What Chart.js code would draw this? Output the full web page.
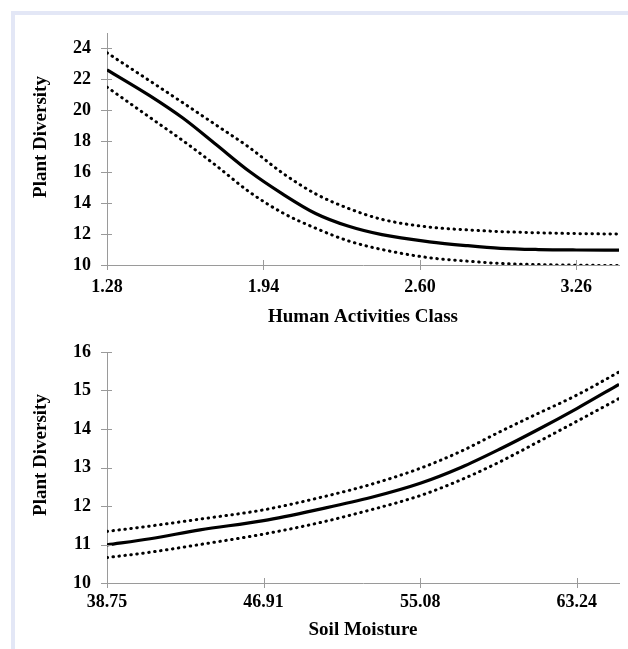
<!DOCTYPE html>
<html>
<head>
<meta charset="utf-8">
<script src="https://cdn.jsdelivr.net/npm/chart.js@4.4.1/dist/chart.umd.min.js"></script>
<style>
  html, body { margin: 0; background: #fff; overflow: hidden; }
  #frame {
    position: absolute; left: 11px; top: 11px; width: 613px; height: 634px;
    border-top: 4px solid #e3e7f6; border-left: 4px solid #e3e7f6;
  }
  .box { position: absolute; left: 15px; }
</style>
</head>
<body>
<div id="frame"></div>
<div class="box" style="top:15px"><canvas id="humanChart" width="613" height="315"></canvas></div>
<div class="box" style="top:330px"><canvas id="soilChart" width="613" height="319"></canvas></div>
<script>
// Plant diversity vs human activities class (fitted curve with confidence band)
const humanX = [1.28, 1.46, 1.60, 1.74, 1.88, 2.02, 2.16, 2.30, 2.44, 2.64, 2.80, 2.94, 3.10, 3.26, 3.44];
const humanMean = [22.62, 20.95, 19.5, 17.79, 16.06, 14.6, 13.33, 12.5, 11.96, 11.5, 11.25, 11.08, 11.0, 10.97, 10.96];
const humanUpper = [23.72, 21.91, 20.49, 19.05, 17.6, 15.95, 14.6, 13.65, 12.95, 12.45, 12.27, 12.16, 12.08, 12.03, 12.0];
const humanLower = [21.5, 19.55, 18.04, 16.43, 14.73, 13.38, 12.38, 11.55, 11.0, 10.47, 10.25, 10.1, 10.03, 9.99, 9.96];
const humanTicksX = [1.28, 1.94, 2.60, 3.26];
const humanTicksY = [10, 12, 14, 16, 18, 20, 22, 24];

// Plant diversity vs soil moisture
const soilX = [38.75, 41.0, 43.6, 46.91, 49.86, 52.5, 55.08, 57.2, 59.24, 61.2, 63.24, 65.44];
const soilMean = [10.99, 11.15, 11.38, 11.62, 11.92, 12.22, 12.59, 13.0, 13.48, 13.98, 14.53, 15.16];
const soilUpper = [11.34, 11.48, 11.66, 11.9, 12.22, 12.56, 12.98, 13.42, 13.93, 14.4, 14.88, 15.48];
const soilLower = [10.66, 10.8, 11.0, 11.27, 11.57, 11.9, 12.27, 12.68, 13.15, 13.66, 14.2, 14.79];
const soilTicksX = [38.75, 46.91, 55.08, 63.24];
const soilTicksY = [10, 11, 12, 13, 14, 15, 16];

const axisColor = '#9a9a9a';
const serif = '"Liberation Serif", "Times New Roman", serif';

// ticks that cross the axis line
const crossTicks = {
  id: 'crossTicks',
  afterDraw(chart) {
    const { ctx, scales: { x, y } } = chart;
    ctx.save();
    ctx.strokeStyle = axisColor;
    ctx.lineWidth = 1;
    ctx.beginPath();
    x.ticks.forEach(t => {
      const px = Math.round(x.getPixelForValue(t.value)) + 0.5;
      ctx.moveTo(px, x.top - 5);
      ctx.lineTo(px, x.top + 5);
    });
    y.ticks.forEach(t => {
      const py = Math.round(y.getPixelForValue(t.value)) + 0.5;
      ctx.moveTo(y.right - 6, py);
      ctx.lineTo(y.right + 5, py);
    });
    ctx.stroke();
    ctx.restore();
  }
};

// rotated y axis title, placed like the original figure
const sideTitle = {
  id: 'sideTitle',
  afterDraw(chart, args, opts) {
    const { ctx } = chart;
    ctx.save();
    ctx.translate(opts.x, opts.y);
    ctx.rotate(-Math.PI / 2);
    ctx.font = 'bold 19px ' + serif;
    ctx.fillStyle = '#000';
    ctx.textAlign = 'center';
    ctx.textBaseline = 'middle';
    ctx.fillText(opts.text, 0, 0);
    ctx.restore();
  }
};

function toPoints(xs, ys) {
  return xs.map((x, i) => ({ x: x, y: ys[i] }));
}

function makeChart(id, cfg) {
  const dotted = { borderColor: '#000', borderWidth: 3, borderDash: [0.5, 5.5], borderCapStyle: 'round',
                   pointRadius: 0, cubicInterpolationMode: 'monotone' };
  return new Chart(document.getElementById(id), {
    type: 'line',
    data: {
      datasets: [
        Object.assign({ label: 'upper', data: toPoints(cfg.xs, cfg.upper) }, dotted),
        Object.assign({ label: 'lower', data: toPoints(cfg.xs, cfg.lower) }, dotted),
        { label: 'mean', data: toPoints(cfg.xs, cfg.mean), borderColor: '#000', borderWidth: 3.2,
          pointRadius: 0, cubicInterpolationMode: 'monotone' }
      ]
    },
    options: {
      responsive: false,
      animation: false,
      events: [],
      layout: { padding: { left: 0, right: 9, top: cfg.padTop, bottom: 0 } },
      plugins: {
        legend: { display: false },
        tooltip: { enabled: false },
        sideTitle: { text: 'Plant Diversity', x: 26, y: cfg.titleY }
      },
      scales: {
        x: {
          type: 'linear',
          min: cfg.xMin,
          max: cfg.xMax,
          afterBuildTicks: s => { s.ticks = cfg.ticksX.map(v => ({ value: v })); },
          afterFit: s => { s.height = cfg.xHeight; },
          grid: { display: true, drawOnChartArea: false, drawTicks: false },
          border: { display: true, color: axisColor, width: 1 },
          ticks: {
            padding: cfg.xPad,
            color: '#000',
            font: { family: serif, size: 18, weight: 'bold' },
            callback: v => v.toFixed(2)
          },
          title: {
            display: true,
            text: cfg.xTitle,
            color: '#000',
            font: { family: serif, size: 19, weight: 'bold' },
            padding: { top: 0, bottom: cfg.titlePad }
          }
        },
        y: {
          min: 10,
          max: cfg.yMax,
          afterBuildTicks: s => { s.ticks = cfg.ticksY.map(v => ({ value: v })); },
          afterFit: s => { s.width = 92; },
          // invisible tick length keeps the labels away from the axis
          grid: { display: true, drawOnChartArea: false, drawTicks: true, tickLength: 14, tickColor: 'rgba(0,0,0,0)' },
          border: { display: true, color: axisColor, width: 1 },
          ticks: {
            padding: 2,
            color: '#000',
            font: { family: serif, size: 18, weight: 'bold' }
          }
        }
      }
    },
    plugins: [crossTicks, sideTitle]
  });
}

makeChart('humanChart', {
  xs: humanX, mean: humanMean, upper: humanUpper, lower: humanLower,
  ticksX: humanTicksX, ticksY: humanTicksY,
  xMin: 1.28, xMax: 3.44, yMax: 25,
  padTop: 18, xHeight: 65, xPad: 12, titlePad: 2, titleY: 122,
  xTitle: 'Human Activities Class'
});

makeChart('soilChart', {
  xs: soilX, mean: soilMean, upper: soilUpper, lower: soilLower,
  ticksX: soilTicksX, ticksY: soilTicksY,
  xMin: 38.75, xMax: 65.44, yMax: 16,
  padTop: 22, xHeight: 66, xPad: 9, titlePad: 8, titleY: 125,
  xTitle: 'Soil Moisture'
});
</script>
</body>
</html>
